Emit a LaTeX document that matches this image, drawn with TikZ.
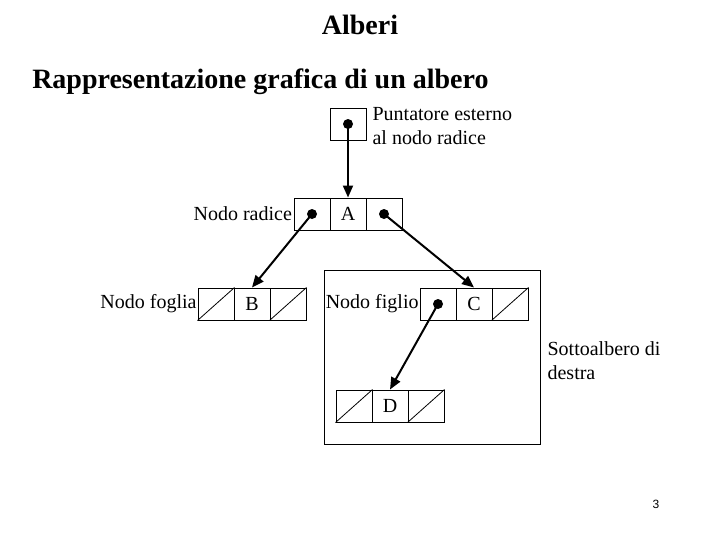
\documentclass[tikz,border=0pt]{standalone}
\usepackage{fontspec}
\setmainfont{Liberation Serif}
\setsansfont{Liberation Sans}
\usetikzlibrary{arrows.meta}
\begin{document}
\begin{tikzpicture}[x=0.75pt,y=-0.75pt,
  cell/.style={draw,line width=0.75pt,minimum width=27pt,minimum height=24pt,inner sep=0pt,font=\fontsize{15}{18}\selectfont},
  dot/.style={circle,fill=black,inner sep=0pt,minimum size=7.5pt},
  ptr/.style={line width=1.5pt,-{Triangle[length=9pt,width=7.5pt]}},
  lbl/.style={font=\fontsize{15}{18}\selectfont,inner sep=1pt},
  nullline/.style={line width=0.6pt}]
\useasboundingbox (0,0) rectangle (720,540);
% titles
\node[font=\bfseries\fontsize{21}{25}\selectfont,anchor=base] (title) at (360,34) {Alberi};
\node[font=\bfseries\fontsize{21}{25}\selectfont,anchor=base west,inner sep=0pt] (sub) at (32,88) {Rappresentazione grafica di un albero};
% subtree box
\node[draw,line width=0.75pt,minimum width=162pt,minimum height=130.5pt,inner sep=0pt] (sub box) at (432,357) {};
% external pointer
\node[draw,line width=0.75pt,minimum width=27pt,minimum height=24pt,inner sep=0pt] (p) at (348,124) {};
\node[dot] (pd) at (p.center) {};
\node[lbl,anchor=base west,align=left] (ptxt) at (371,144) {Puntatore esterno\\al nodo radice};
% node A
\node[cell] (aL) at (312,214) {};
\node[cell] (aM) at (348,214) {A};
\node[cell] (aR) at (384,214) {};
\node[dot] (aLd) at (aL.center) {};
\node[dot] (aRd) at (aR.center) {};
\node[lbl,anchor=east] (lradice) at (aL.west) {Nodo radice};
% node B
\node[cell] (bL) at (216,304) {};
\node[cell] (bM) at (252,304) {B};
\node[cell] (bR) at (288,304) {};
\draw[nullline] (bL.south west) -- (bL.north east);
\draw[nullline] (bR.south west) -- (bR.north east);
\node[lbl,anchor=east,inner sep=0.5pt] (lfoglia) at (bL.west) {Nodo foglia};
% node C
\node[cell] (cL) at (438,304) {};
\node[cell] (cM) at (474,304) {C};
\node[cell] (cR) at (510,304) {};
\node[dot] (cLd) at (cL.center) {};
\draw[nullline] (cR.south west) -- (cR.north east);
\node[lbl,anchor=east,inner sep=0.5pt] (lfiglio) at (cL.west) {Nodo figlio};
% node D
\node[cell] (dL) at (354,406) {};
\node[cell] (dM) at (390,406) {D};
\node[cell] (dR) at (426,406) {};
\draw[nullline] (dL.south west) -- (dL.north east);
\draw[nullline] (dR.south west) -- (dR.north east);
% subtree label
\node[lbl,anchor=base west,align=left] (stxt) at (546,379) {Sottoalbero di\\destra};
% pointers
\draw[ptr] (pd.center) -- (aM.north);
\draw[ptr] (aLd.center) -- (bM.north);
\draw[ptr] (aRd.center) -- (cM.north);
\draw[ptr] (cLd.center) -- (dM.north);
% page number
\node[font=\sffamily\fontsize{9}{11}\selectfont,anchor=base] (pg) at (656,508) {3};
\end{tikzpicture}
\end{document}
